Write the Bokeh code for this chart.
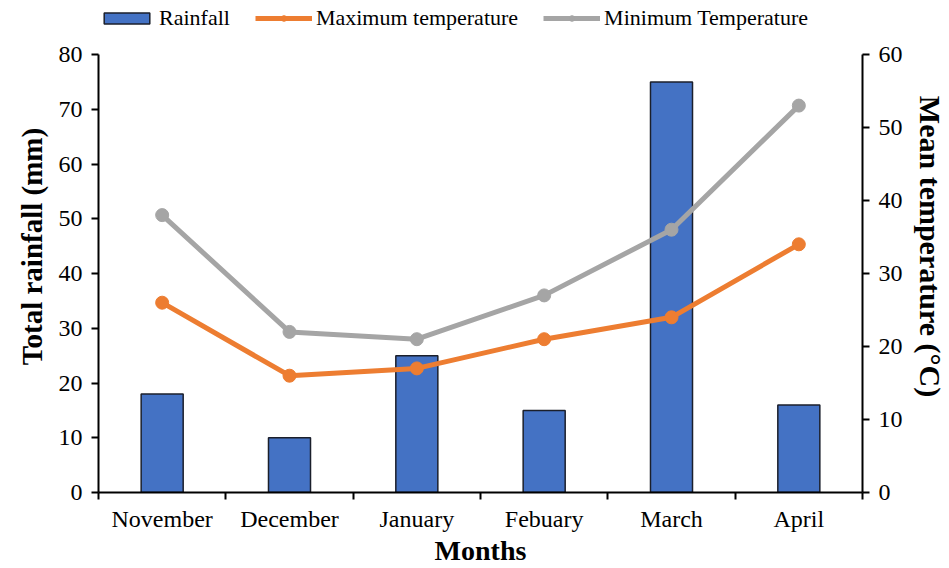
from bokeh.plotting import figure
from bokeh.models import (Range1d, LinearAxis, FixedTicker, Legend, LegendItem,
                          ColumnDataSource)
from bokeh.embed import file_html
from bokeh.resources import INLINE

months = ["November", "December", "January", "Febuary", "March", "April"]
rainfall = [18, 10, 25, 15, 75, 16]
max_temp = [26, 16, 17, 21, 24, 34]
min_temp = [38, 22, 21, 27, 36, 53]
rain_ticks = [0, 10, 20, 30, 40, 50, 60, 70, 80]
temp_ticks = [0, 10, 20, 30, 40, 50, 60]

xs = [i + 0.5 for i in range(len(months))]
bounds = list(range(len(months) + 1))
src = ColumnDataSource(dict(x=xs, rain=rainfall, tmax=max_temp, tmin=min_temp))

FONT = "Liberation Serif"

# layout: frame spans whole height above the x axis; axes stop at their max value
H, BOTTOM, TOP_PAD = 568, 76, 54
FRAME_H = H - BOTTOM
scale = FRAME_H / (FRAME_H - TOP_PAD)
rain_max, temp_max = rain_ticks[-1], temp_ticks[-1]

p = figure(width=949, height=H, output_backend="svg", toolbar_location=None,
           x_range=Range1d(0, len(months)), y_range=Range1d(0, rain_max * scale),
           min_border_left=98, min_border_right=84, min_border_top=0,
           min_border_bottom=BOTTOM, outline_line_color=None)
p.extra_y_ranges = {"temp": Range1d(0, temp_max * scale)}
p.xgrid.visible = False
p.ygrid.visible = False

bars = p.vbar(x="x", top="rain", width=0.33, source=src, fill_color="#4472C4",
              line_color="#1b1f2b", line_width=1.5)
l1 = p.line(x="x", y="tmax", source=src, y_range_name="temp", line_color="#ED7D31", line_width=5)
c1 = p.scatter(x="x", y="tmax", source=src, y_range_name="temp", size=13,
               fill_color="#ED7D31", line_color="#ED7D31")
l2 = p.line(x="x", y="tmin", source=src, y_range_name="temp", line_color="#A5A5A5", line_width=5)
c2 = p.scatter(x="x", y="tmin", source=src, y_range_name="temp", size=13,
               fill_color="#A5A5A5", line_color="#A5A5A5")

right = LinearAxis(y_range_name="temp")
p.add_layout(right, "right")

# x axis
xa = p.xaxis[0]
xa.ticker = FixedTicker(ticks=xs, minor_ticks=bounds)
xa.major_label_overrides = {x: m for x, m in zip(xs, months)}
xa.major_tick_out = 0
xa.major_tick_in = 0
xa.minor_tick_out = 7
xa.minor_tick_in = 0
xa.minor_tick_line_width = 2
xa.minor_tick_line_color = "black"
xa.axis_label = "Months"

la = p.yaxis[0]
la.ticker = FixedTicker(ticks=rain_ticks)
la.bounds = (0, rain_max)
la.axis_label = "Total rainfall (mm)"
right.ticker = FixedTicker(ticks=temp_ticks)
right.bounds = (0, temp_max)
right.axis_label = "Mean temperature (°C)"

for ax in [xa, la, right]:
    ax.axis_line_width = 2
    ax.axis_line_color = "black"
    ax.major_label_text_font = FONT
    ax.major_label_text_font_size = "24px"
    ax.major_label_text_color = "black"
    ax.axis_label_text_font = FONT
    ax.axis_label_text_font_size = "29px"
    ax.axis_label_text_font_style = "bold"
    ax.axis_label_text_color = "black"
for ax in [la, right]:
    ax.major_tick_out = 7
    ax.major_tick_in = 0
    ax.major_tick_line_width = 2
    ax.major_tick_line_color = "black"
    ax.minor_tick_line_color = None
    ax.major_label_standoff = 9
    ax.axis_label_standoff = 8
right.axis_label_text_font_size = "30px"
xa.axis_label_text_font_size = "28px"
xa.major_label_standoff = 6
xa.axis_label_standoff = 0

legend = Legend(items=[
    LegendItem(label="Rainfall", renderers=[bars]),
    LegendItem(label="Maximum temperature", renderers=[l1, c1]),
    LegendItem(label="Minimum Temperature", renderers=[l2, c2]),
], orientation="horizontal", location=(0, FRAME_H - 31))
legend.label_text_font = FONT
legend.label_text_font_size = "22px"
legend.label_text_color = "black"
legend.glyph_width = 57
legend.glyph_height = 14
legend.label_standoff = 4
legend.spacing = 25
legend.padding = 0
legend.margin = 0
legend.border_line_color = None
legend.background_fill_alpha = 0
p.add_layout(legend, "center")

open("out.html", "w").write(file_html(p, INLINE))
